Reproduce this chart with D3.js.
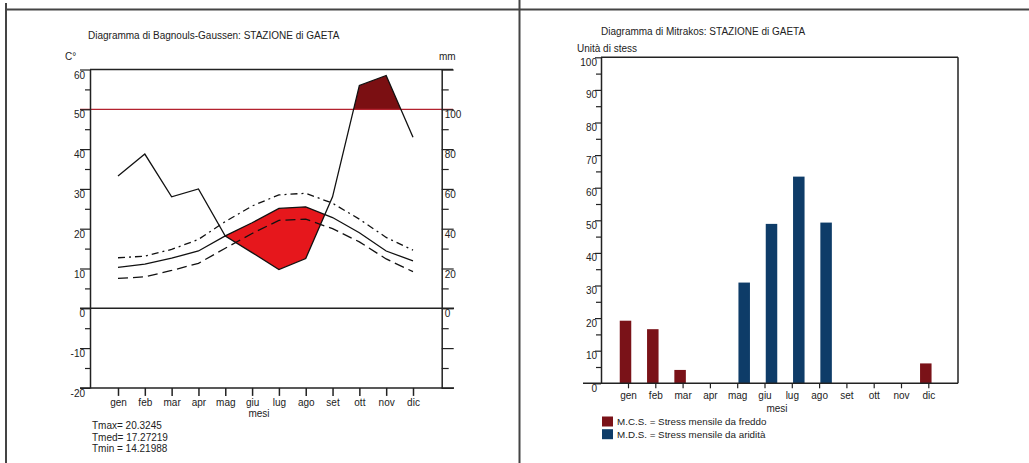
<!DOCTYPE html>
<html>
<head>
<meta charset="utf-8">
<script src="https://cdn.jsdelivr.net/npm/d3@7"></script>
<style>
  html, body { margin: 0; padding: 0; background: #fff; }
  svg { display: block; font-family: "Liberation Sans", Arial, sans-serif; }
  text { fill: #222; }
</style>
</head>
<body>
<svg id="chart" width="1029" height="463"></svg>
<script>
// ---------- DATA ----------
const months = ["gen","feb","mar","apr","mag","giu","lug","ago","set","ott","nov","dic"];
// Bagnouls-Gaussen (left)
const precipMM = [66.5, 77.5, 56, 60, 36.3, 28, 19.5, 25, 56, 112, 117, 86];
const tMed = [10.3, 11.1, 12.6, 14.4, 18.2, 21.5, 25.1, 25.5, 22.8, 19.0, 14.4, 11.9];
const tMax = [12.7, 13.1, 14.8, 17.3, 21.8, 25.7, 28.5, 28.9, 26.4, 22.4, 17.8, 14.6];
const tMin = [7.5, 7.9, 9.5, 11.3, 15.1, 18.8, 22.1, 22.4, 20.0, 16.7, 12.4, 9.2];
const tempTicks = [-20, -10, 0, 10, 20, 30, 40, 50, 60];
const tempMinorTicks = [-15, -5, 5, 15, 25, 35, 45, 55];
const mmTicks = [-40, -20, 0, 20, 40, 60, 80, 100, 120];
const mmLabelled = [0, 20, 40, 60, 80, 100];
const mmMinorTicks = [-30, -10, 10, 30, 50, 70, 90, 110];
const wetThreshold = 100;
const statsLabels = ["Tmax= 20.3245", "Tmed= 17.27219", "Tmin = 14.21988"];
// Mitrakos (right)
const mcsStress = [19.2, 16.6, 4.1, 0, 0, 0, 0, 0, 0, 0, 0, 6.1];
const mdsStress = [0, 0, 0, 0, 30.9, 48.9, 63.4, 49.3, 0, 0, 0, 0];
const stressTicks = [0, 10, 20, 30, 40, 50, 60, 70, 80, 90, 100];
const stressMinorTicks = [5, 15, 25, 35, 45, 55, 65, 75, 85, 95];
const seriesNames = ["MCS", "MDS"];
const legendLabels = ["M.C.S. = Stress mensile da freddo", "M.D.S. = Stress mensile da aridità"];

// ---------- STYLE ----------
const RED_FILL = "#e6171c", DARK_RED = "#7b0f12", RED_LINE = "#b3222e";
const BAR_RED = "#7a1218", BAR_BLUE = "#0e3c68", AXIS = "#222";
const plain = d => String(d);

const svg = d3.select("#chart");

// Outer frame (scanned page lines)
svg.append("line").attr("x1", 5).attr("x2", 1029).attr("y1", 9.5).attr("y2", 9.5)
  .attr("stroke", "#444").attr("stroke-width", 2);
svg.append("line").attr("x1", 6).attr("x2", 6).attr("y1", 3).attr("y2", 463)
  .attr("stroke", "#444").attr("stroke-width", 2);
svg.append("line").attr("x1", 519.5).attr("x2", 519.5).attr("y1", 0).attr("y2", 463)
  .attr("stroke", "#444").attr("stroke-width", 2);

// ================= LEFT: Bagnouls-Gaussen =================
const L = { left: 90, right: 441.7, top: 69.5, bottom: 387.9 };
const xL = d3.scalePoint().domain(months).range([118, 413]);
const yT = d3.scaleLinear().domain([-20, 60]).range([L.bottom, L.top]);
const yMM = d3.scaleLinear().domain([-40, 120]).range([L.bottom, L.top]);

const gL = svg.append("g");

gL.append("text").attr("x", 88).attr("y", 39).attr("font-size", 10)
  .text("Diagramma di Bagnouls-Gaussen: STAZIONE di GAETA");
gL.append("text").attr("x", 65).attr("y", 60).attr("font-size", 10).text("C°");
gL.append("text").attr("x", 439).attr("y", 60).attr("font-size", 10).text("mm");

// Crossing-aware point lists for fills
function withCrossings(pArr, qArr) {
  const pts = [];
  for (let i = 0; i < months.length; i++) {
    const x = xL(months[i]);
    pts.push({ x, p: pArr[i], q: qArr[i] });
    if (i < months.length - 1) {
      const d0 = pArr[i] - qArr[i], d1 = pArr[i + 1] - qArr[i + 1];
      if (d0 * d1 < 0) {
        const t = d0 / (d0 - d1);
        const x1 = xL(months[i + 1]);
        const p = pArr[i] + t * (pArr[i + 1] - pArr[i]);
        pts.push({ x: x + t * (x1 - x), p, q: p });
      }
    }
  }
  return pts;
}

// Dry period (2T > P)
const dryPts = withCrossings(precipMM, tMed.map(t => 2 * t));
gL.append("path").datum(dryPts)
  .attr("fill", RED_FILL)
  .attr("d", d3.area().x(d => d.x).y0(d => yMM(d.p)).y1(d => yMM(Math.max(d.p, d.q))));

// Wet period (P > 100 mm)
const wetPts = withCrossings(precipMM, months.map(() => wetThreshold));
gL.append("path").datum(wetPts)
  .attr("fill", DARK_RED)
  .attr("d", d3.area().x(d => d.x).y0(yMM(wetThreshold)).y1(d => yMM(Math.max(d.p, wetThreshold))));

// 100 mm reference line
gL.append("line").attr("x1", 80).attr("x2", 453)
  .attr("y1", yMM(wetThreshold)).attr("y2", yMM(wetThreshold))
  .attr("stroke", RED_LINE).attr("stroke-width", 1.2);

// Horizontal frame lines
gL.append("line").attr("x1", L.left).attr("x2", 453).attr("y1", yT(60)).attr("y2", yT(60))
  .attr("stroke", AXIS).attr("stroke-width", 1.5);
gL.append("line").attr("x1", 80).attr("x2", 454).attr("y1", yT(0)).attr("y2", yT(0))
  .attr("stroke", AXIS).attr("stroke-width", 1.5);
gL.append("line").attr("x1", 80).attr("x2", 454).attr("y1", yT(-20)).attr("y2", yT(-20))
  .attr("stroke", AXIS).attr("stroke-width", 1.5);

// Left axis (°C)
const axL = gL.append("g").attr("transform", `translate(${L.left},0)`)
  .call(d3.axisLeft(yT).tickValues(tempTicks).tickSize(10).tickSizeOuter(0).tickFormat(plain));
axL.select(".domain").attr("stroke", AXIS).attr("stroke-width", 1.5);
axL.selectAll(".tick line").attr("stroke", AXIS).attr("stroke-width", 1.2);
axL.selectAll(".tick text").attr("x", -5).attr("dy", "0.85em").attr("font-size", 10)
  .attr("font-family", "Liberation Sans, Arial, sans-serif").attr("fill", "#222");
gL.append("g").attr("transform", `translate(${L.left},0)`)
  .call(d3.axisLeft(yT).tickValues(tempMinorTicks).tickSize(5).tickSizeOuter(0).tickFormat(""))
  .call(g => g.select(".domain").remove())
  .selectAll(".tick line").attr("stroke", AXIS).attr("stroke-width", 1.2);

// Right axis (mm)
const axR = gL.append("g").attr("transform", `translate(${L.right},0)`)
  .call(d3.axisRight(yMM).tickValues(mmTicks).tickSize(12).tickSizeOuter(0)
    .tickFormat(d => mmLabelled.includes(d) ? String(d) : ""));
axR.select(".domain").attr("stroke", AXIS).attr("stroke-width", 1.5);
axR.selectAll(".tick line").attr("stroke", AXIS).attr("stroke-width", 1.2);
axR.selectAll(".tick text").attr("x", 3).attr("dy", "0.85em").attr("font-size", 10)
  .attr("font-family", "Liberation Sans, Arial, sans-serif").attr("fill", "#222");
gL.append("g").attr("transform", `translate(${L.right},0)`)
  .call(d3.axisRight(yMM).tickValues(mmMinorTicks).tickSize(7).tickSizeOuter(0).tickFormat(""))
  .call(g => g.select(".domain").remove())
  .selectAll(".tick line").attr("stroke", AXIS).attr("stroke-width", 1.2);

// Month axis
const axB = gL.append("g").attr("transform", `translate(0,${L.bottom})`)
  .call(d3.axisBottom(xL).tickSize(8).tickSizeOuter(0));
axB.select(".domain").remove();
axB.selectAll(".tick line").attr("stroke", AXIS).attr("stroke-width", 1.5);
axB.selectAll(".tick text").attr("y", 11).attr("dy", "0.71em").attr("font-size", 10)
  .attr("font-family", "Liberation Sans, Arial, sans-serif").attr("fill", "#222");
gL.append("text").attr("x", 259).attr("y", 417).attr("font-size", 10)
  .attr("text-anchor", "middle").text("mesi");

// Temperature curves
const lineT = d3.line().x((d, i) => xL(months[i])).y(d => yT(d));
gL.append("path").datum(tMax).attr("d", lineT).attr("fill", "none")
  .attr("stroke", "#111").attr("stroke-width", 1.3).attr("stroke-dasharray", "7,4,2,4");
gL.append("path").datum(tMin).attr("d", lineT).attr("fill", "none")
  .attr("stroke", "#111").attr("stroke-width", 1.3).attr("stroke-dasharray", "10,5");
gL.append("path").datum(tMed).attr("d", lineT).attr("fill", "none")
  .attr("stroke", "#111").attr("stroke-width", 1.3);

// Precipitation line
const lineP = d3.line().x((d, i) => xL(months[i])).y(d => yMM(d));
gL.append("path").datum(precipMM).attr("d", lineP).attr("fill", "none")
  .attr("stroke", "#111").attr("stroke-width", 1.3);

// Stats
gL.selectAll(".stat").data(statsLabels).enter().append("text")
  .attr("x", 92).attr("y", (d, i) => 429 + i * 11.5).attr("font-size", 10).text(d => d);

// ================= RIGHT: Mitrakos =================
const R = { left: 601, right: 958, top: 57.3, bottom: 383.3 };
const xR = d3.scalePoint().domain(months).range([628, 928.3]);
const xSeries = d3.scaleOrdinal().domain(seriesNames).range([-2.5, 7]);
const yS = d3.scaleLinear().domain([0, 100]).range([R.bottom, R.top]);
const barW = 11.5;

const gR = svg.append("g");
gR.append("text").attr("x", 601).attr("y", 35).attr("font-size", 10)
  .text("Diagramma di Mitrakos: STAZIONE di GAETA");
gR.append("text").attr("x", 577).attr("y", 52).attr("font-size", 10).text("Unità di stess");

// Bars
const barData = [];
months.forEach((m, i) => {
  if (mcsStress[i] > 0) barData.push({ m, s: "MCS", v: mcsStress[i] });
  if (mdsStress[i] > 0) barData.push({ m, s: "MDS", v: mdsStress[i] });
});
gR.selectAll(".bar").data(barData).enter().append("rect")
  .attr("x", d => xR(d.m) + xSeries(d.s) - barW / 2)
  .attr("width", barW)
  .attr("y", d => yS(d.v))
  .attr("height", d => yS(0) - yS(d.v))
  .attr("fill", d => d.s === "MCS" ? BAR_RED : BAR_BLUE);

// Frame
gR.append("line").attr("x1", R.left).attr("x2", R.right).attr("y1", R.top).attr("y2", R.top)
  .attr("stroke", AXIS).attr("stroke-width", 1.5);
gR.append("line").attr("x1", R.right).attr("x2", R.right).attr("y1", R.top).attr("y2", R.bottom)
  .attr("stroke", AXIS).attr("stroke-width", 1.5);
gR.append("line").attr("x1", 583).attr("x2", R.right).attr("y1", yS(0)).attr("y2", yS(0))
  .attr("stroke", AXIS).attr("stroke-width", 1.5);

const axS = gR.append("g").attr("transform", `translate(${R.left},0)`)
  .call(d3.axisLeft(yS).tickValues(stressTicks).tickSize(6).tickSizeOuter(0).tickFormat(plain));
axS.select(".domain").attr("stroke", AXIS).attr("stroke-width", 1.5);
axS.selectAll(".tick line").attr("stroke", AXIS).attr("stroke-width", 1.2);
axS.selectAll(".tick text").attr("x", -4).attr("dy", "0.8em").attr("font-size", 10)
  .attr("font-family", "Liberation Sans, Arial, sans-serif").attr("fill", "#222");
gR.append("g").attr("transform", `translate(${R.left},0)`)
  .call(d3.axisLeft(yS).tickValues(stressMinorTicks).tickSize(5).tickSizeOuter(0).tickFormat(""))
  .call(g => g.select(".domain").remove())
  .selectAll(".tick line").attr("stroke", AXIS).attr("stroke-width", 1.2);

const axM = gR.append("g").attr("transform", `translate(0,${R.bottom})`)
  .call(d3.axisBottom(xR).tickSize(5).tickSizeOuter(0));
axM.select(".domain").remove();
axM.selectAll(".tick line").attr("stroke", AXIS).attr("stroke-width", 1.2);
axM.selectAll(".tick text").attr("y", 9).attr("dy", "0.71em").attr("font-size", 10)
  .attr("font-family", "Liberation Sans, Arial, sans-serif").attr("fill", "#222");
gR.append("text").attr("x", 777).attr("y", 412).attr("font-size", 10)
  .attr("text-anchor", "middle").text("mesi");

// Legend
const leg = gR.selectAll(".leg").data(seriesNames).enter().append("g")
  .attr("transform", (d, i) => `translate(602,${416.5 + i * 12.7})`);
leg.append("rect").attr("width", 11).attr("height", 10)
  .attr("fill", d => d === "MCS" ? BAR_RED : BAR_BLUE);
leg.append("text").attr("x", 15).attr("y", 8.8).attr("font-size", 9.8)
  .text((d, i) => legendLabels[i]);
</script>
</body>
</html>
